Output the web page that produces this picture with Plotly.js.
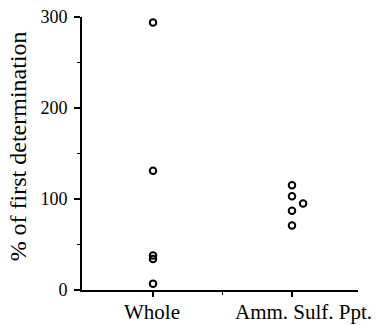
<!DOCTYPE html>
<html><head><meta charset="utf-8">
<script src="https://cdn.plot.ly/plotly-3.0.1.min.js"></script>
<style>html,body{margin:0;padding:0;background:#fff;}#c{width:376px;height:325px;}</style>
</head><body><div id="c"></div>
<script>
var categories = ["Whole", "Amm. Sulf. Ppt."];
var catPos = [1, 2];
var wholeX = [1, 1, 1, 1, 1];
var wholeY = [294, 131, 38, 34, 7];
var ammX = [2, 2, 2, 2, 2.08];
var ammY = [115, 103, 87, 71, 95];
var yTicks = [0, 100, 200, 300];
var yTickText = ["0", "100", "200", "300"];

function serifFont(sz){ return {family: "Liberation Serif", size: sz, color: "#000"}; }
var mk = {symbol: "circle-open", size: 6.5, color: "#000", line: {width: 2, color: "#000"}};

var traces = [
  {x: wholeX, y: wholeY, type: "scatter", mode: "markers", marker: mk, cliponaxis: false, hoverinfo: "none"},
  {x: ammX, y: ammY, type: "scatter", mode: "markers", marker: mk, cliponaxis: false, hoverinfo: "none"}
];

var annotations = categories.map(function(c, i){
  return {text: c, x: catPos[i], xref: "x", y: 0, yref: "paper", yanchor: "top", xanchor: "center",
          xshift: i === 1 ? 12 : -1, yshift: -8, showarrow: false, font: serifFont(21)};
});
annotations.push({text: "% of first determination", textangle: -90, xref: "paper", yref: "paper",
  x: -0.232, y: 0.526, xanchor: "center", yanchor: "middle", showarrow: false, font: serifFont(24)});

var layout = {
  width: 376, height: 325,
  margin: {l: 82, r: 18, t: 17, b: 35},
  paper_bgcolor: "#fff", plot_bgcolor: "#fff",
  showlegend: false,
  font: serifFont(20),
  xaxis: {range: [0.489, 2.475], showgrid: false, zeroline: false, showline: true, linecolor: "#000", linewidth: 1.5,
          tickvals: catPos, ticktext: ["", ""], ticks: "outside", ticklen: 5, tickwidth: 2, tickcolor: "#000",
          minor: {tickvals: [1.5], ticks: "outside", ticklen: 3, tickwidth: 1.5, tickcolor: "#000"}},
  yaxis: {range: [0, 300], showgrid: false, zeroline: false, showline: true, linecolor: "#000", linewidth: 2,
          tickvals: yTicks, ticktext: yTickText, ticks: "outside", ticklen: 6, tickwidth: 2, tickcolor: "#000",
          ticklabelstandoff: 3, tickfont: serifFont(18),
          minor: {tickvals: [50, 150, 250], ticks: "outside", ticklen: 3, tickwidth: 1.5, tickcolor: "#000"}},
  annotations: annotations
};
Plotly.newPlot("c", traces, layout, {staticPlot: true, displayModeBar: false});
</script></body></html>
